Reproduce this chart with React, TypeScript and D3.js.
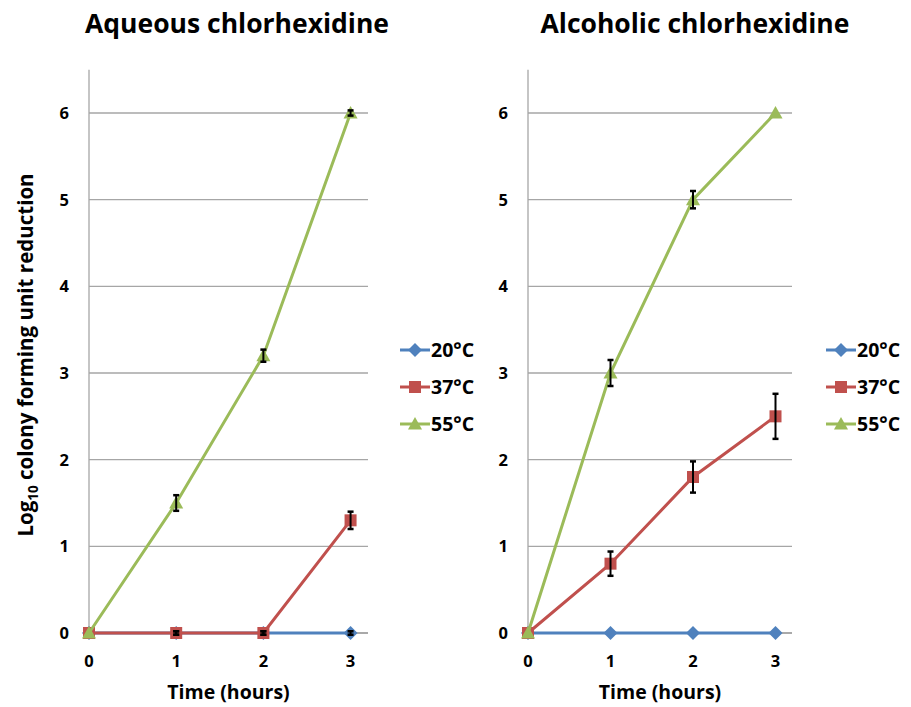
import React from "react";
import * as d3 from "d3";

const times = [0, 1, 2, 3];
const yTicks = [0, 1, 2, 3, 4, 5, 6];
const seriesNames = ["20°C", "37°C", "55°C"];
const seriesColors = ["#4F81BD", "#C0504D", "#9BBB59"];
const seriesShapes = ["diamond", "square", "triangle"];

// Aqueous chlorhexidine
const aq20 = [0, 0, 0, 0];
const aq37 = [0, 0, 0, 1.3];
const aq55 = [0, 1.5, 3.2, 6.0];
const aq20Err = [0, 0.02, 0.02, 0.02];
const aq37Err = [0, 0.02, 0.02, 0.1];
const aq55Err = [0, 0.09, 0.07, 0.03];

// Alcoholic chlorhexidine
const al20 = [0, 0, 0, 0];
const al37 = [0, 0.8, 1.8, 2.5];
const al55 = [0, 3.0, 5.0, 6.0];
const al20Err = [0, 0, 0, 0];
const al37Err = [0, 0.14, 0.18, 0.26];
const al55Err = [0, 0.15, 0.1, 0];

const FONT = "'Open Sans', 'Liberation Sans', sans-serif";

function Marker({ shape, x, y, color }: { shape: string; x: number; y: number; color: string }) {
  if (shape === "diamond") {
    const s = 7;
    return <path d={`M${x},${y - s}L${x + s},${y}L${x},${y + s}L${x - s},${y}Z`} fill={color} />;
  }
  if (shape === "square") {
    const s = 6;
    return <rect x={x - s} y={y - s} width={2 * s} height={2 * s} fill={color} />;
  }
  const s = 7;
  return <path d={`M${x},${y - s}L${x + s},${y + s * 0.8}L${x - s},${y + s * 0.8}Z`} fill={color} />;
}

function Panel({
  title,
  left,
  right,
  series,
  errors,
  titleX,
}: {
  title: string;
  left: number;
  right: number;
  series: number[][];
  errors: number[][];
  titleX: number;
}) {
  const x0 = left;
  const xStep = (right - left) / 3.2;
  const x = d3.scaleLinear().domain([0, 3]).range([x0, x0 + 3 * xStep]);
  const gridEnd = right;
  const y = d3.scaleLinear().domain([0, 6]).range([633, 113]);
  const yTop = y(6.5);
  const line = d3
    .line<number>()
    .x((_, i) => x(times[i]))
    .y((d) => y(d));
  return (
    <g>
      <text x={titleX} y={33} textAnchor="middle" fontFamily={FONT} fontWeight="bold" fontSize={26.5} fill="#000">
        {title}
      </text>
      {yTicks.slice(1).map((t) => (
        <line key={t} x1={x0} x2={gridEnd} y1={y(t)} y2={y(t)} stroke="#a6a6a6" strokeWidth={1.3} />
      ))}
      <line x1={x0} x2={x0} y1={yTop} y2={y(0)} stroke="#a6a6a6" strokeWidth={1.3} />
      <line x1={x0} x2={gridEnd} y1={y(0)} y2={y(0)} stroke="#8c8c8c" strokeWidth={1.3} />
      {yTicks.map((t) => (
        <text key={t} x={x0 - 20} y={y(t) + 6} textAnchor="end" fontFamily={FONT} fontWeight="bold" fontSize={16.5} fill="#000">
          {t}
        </text>
      ))}
      {times.map((t) => (
        <text key={t} x={x(t)} y={667} textAnchor="middle" fontFamily={FONT} fontWeight="bold" fontSize={16.5} fill="#000">
          {t}
        </text>
      ))}
      <text x={x(1.6)} y={699} textAnchor="middle" fontFamily={FONT} fontWeight="bold" fontSize={19.5} fill="#000">
        Time (hours)
      </text>
      {series.map((s, si) => (
        <g key={si}>
          <path d={line(s) || ""} fill="none" stroke={seriesColors[si]} strokeWidth={3} />
          {s.map((v, i) => (
            <Marker key={i} shape={seriesShapes[si]} x={x(times[i])} y={y(v)} color={seriesColors[si]} />
          ))}
        </g>
      ))}
      {series.map((s, si) =>
        s.map((v, i) => {
          const e = errors[si][i];
          if (!e) return null;
          const cx = x(times[i]);
          return (
            <g key={`${si}-${i}`} stroke="#000" strokeWidth={2}>
              <line x1={cx} x2={cx} y1={y(v + e)} y2={y(v - e)} />
              <line x1={cx - 3} x2={cx + 3} y1={y(v + e)} y2={y(v + e)} strokeWidth={2.5} />
              <line x1={cx - 3} x2={cx + 3} y1={y(v - e)} y2={y(v - e)} strokeWidth={2.5} />
            </g>
          );
        })
      )}
    </g>
  );
}

function Legend({ x, y0 }: { x: number; y0: number }) {
  return (
    <g>
      {seriesNames.map((n, i) => {
        const yy = y0 + i * 37;
        return (
          <g key={n}>
            <line x1={x} x2={x + 30} y1={yy} y2={yy} stroke={seriesColors[i]} strokeWidth={3} />
            <Marker shape={seriesShapes[i]} x={x + 15} y={yy} color={seriesColors[i]} />
            <text x={x + 31} y={yy + 7} fontFamily={FONT} fontWeight="bold" fontSize={19.5} fill="#000">
              {n}
            </text>
          </g>
        );
      })}
    </g>
  );
}

export default function App() {
  return (
    <svg width={911} height={707} style={{ position: "absolute", left: 0, top: 0 }}>
      <rect width={911} height={707} fill="#fff" />
      <Panel title="Aqueous chlorhexidine" left={89} right={368} series={[aq20, aq37, aq55]} errors={[aq20Err, aq37Err, aq55Err]} titleX={237} />
      <Panel title="Alcoholic chlorhexidine" left={528} right={792} series={[al20, al37, al55]} errors={[al20Err, al37Err, al55Err]} titleX={695} />
      <Legend x={400} y0={350} />
      <Legend x={826} y0={350} />
      <text
        transform="translate(33,355) rotate(-90)"
        textAnchor="middle"
        fontFamily={FONT}
        fontWeight="bold"
        fontSize={20.5}
        fill="#000"
      >
        Log<tspan fontSize={13.5} dy={5}>10</tspan>
        <tspan dy={-5}> colony forming unit reduction</tspan>
      </text>
    </svg>
  );
}
